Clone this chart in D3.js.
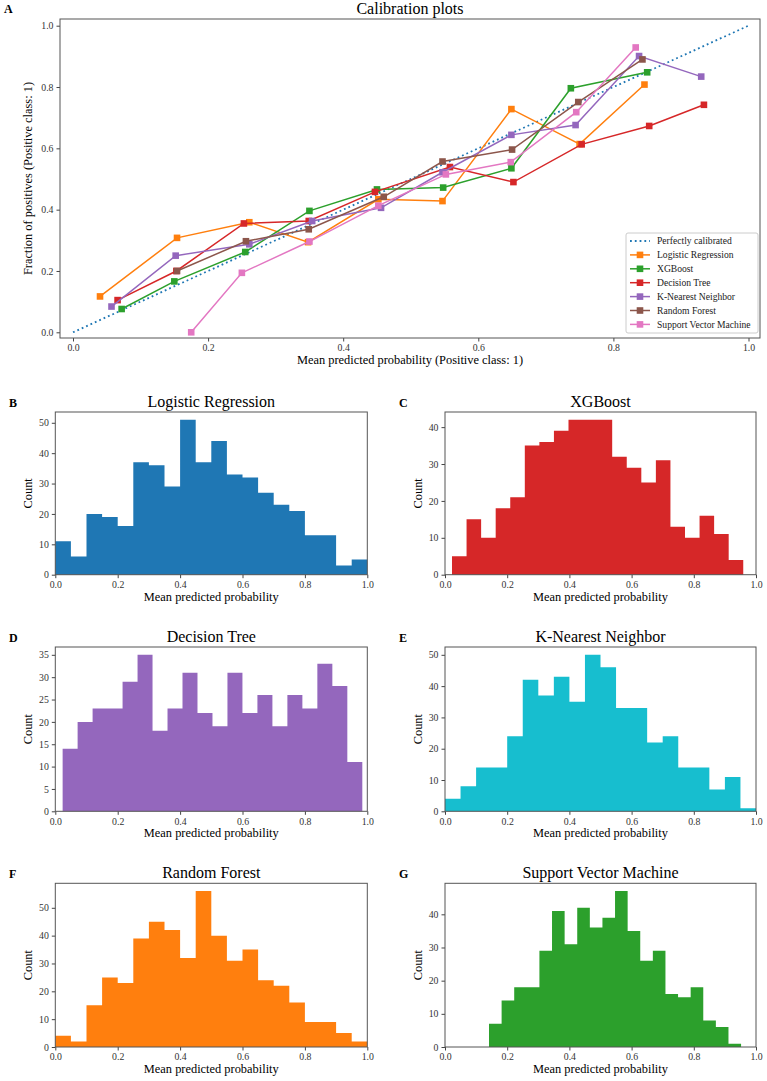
<!DOCTYPE html>
<html>
<head>
<meta charset="utf-8">
<script src="https://cdn.jsdelivr.net/npm/d3@7"></script>
<style>
  body { margin: 0; background: #fff; }
  svg { font-family: "Liberation Serif", "Times New Roman", serif; }
  .tick text { fill: #333; }
  .tick line { stroke: #444; }
</style>
</head>
<body>
<svg id="chart" width="767" height="1081"></svg>
<script>
// calibration curves: [mean predicted, fraction of positives]
const lrCal = [[0.040, 0.117], [0.154, 0.308], [0.261, 0.359], [0.348, 0.294], [0.452, 0.434],
  [0.547, 0.428], [0.649, 0.728], [0.750, 0.614], [0.846, 0.808]];
const xgbCal = [[0.072, 0.076], [0.150, 0.166], [0.255, 0.262], [0.350, 0.396], [0.450, 0.466],
  [0.548, 0.472], [0.649, 0.535], [0.737, 0.796], [0.850, 0.848]];
const dtCal = [[0.066, 0.105], [0.153, 0.200], [0.253, 0.355], [0.349, 0.363], [0.447, 0.458],
  [0.558, 0.539], [0.652, 0.490], [0.753, 0.613], [0.853, 0.673], [0.934, 0.742]];
const knnCal = [[0.057, 0.084], [0.152, 0.250], [0.261, 0.287], [0.354, 0.363], [0.456, 0.406],
  [0.547, 0.522], [0.649, 0.644], [0.744, 0.676], [0.838, 0.901], [0.930, 0.834]];
const rfCal = [[0.154, 0.200], [0.256, 0.297], [0.349, 0.336], [0.460, 0.442], [0.547, 0.557],
  [0.650, 0.596], [0.748, 0.751], [0.843, 0.890]];
const svmCal = [[0.175, 0.000], [0.250, 0.194], [0.350, 0.296], [0.452, 0.413], [0.552, 0.515],
  [0.648, 0.555], [0.745, 0.718], [0.833, 0.929]];

const modelNames = ['Logistic Regression', 'XGBoost', 'Decision Tree', 'K-Nearest Neighbor',
  'Random Forest', 'Support Vector Machine'];
const calColors = ['#ff7f0e', '#2ca02c', '#d62728', '#9467bd', '#8c564b', '#e377c2'];
const calSeries = [lrCal, xgbCal, dtCal, knnCal, rfCal, svmCal];
const calTicks = [0, 0.2, 0.4, 0.6, 0.8, 1.0];

// histograms of predicted probability (20 bins each)
const lrCounts = [11, 6, 20, 19, 16, 37, 36, 29, 51, 37, 44, 33, 32, 27, 23, 21, 13, 13, 3, 5];
const xgbCounts = [5, 15, 10, 18, 21, 35, 36, 39, 42, 42, 42, 32, 29, 25, 31, 13, 10, 16, 11, 4];
const dtCounts = [14, 20, 23, 23, 29, 35, 18, 23, 31, 22, 19, 31, 22, 26, 19, 26, 23, 33, 28, 11];
const knnCounts = [4, 8, 14, 14, 24, 42, 37, 43, 35, 50, 46, 33, 33, 22, 24, 14, 14, 7, 11, 1];
const rfCounts = [4, 2, 15, 25, 23, 39, 45, 42, 32, 56, 40, 31, 35, 24, 22, 16, 9, 9, 5, 2];
const svmCounts = [7, 14, 18, 18, 29, 41, 31, 42, 36, 39, 47, 35, 26, 29, 16, 15, 18, 8, 6, 1];

// [first bin edge, last bin edge]
const lrRange = [0, 1];
const xgbRange = [0.0225, 0.959];
const dtRange = [0.0235, 0.984];
const knnRange = [0, 1];
const rfRange = [0, 1];
const svmRange = [0.1415, 0.952];

const histLetters = ['B', 'C', 'D', 'E', 'F', 'G'];
const histColors = ['#1f77b4', '#d62728', '#9467bd', '#17becf', '#ff7f0e', '#2ca02c'];
const histCounts = [lrCounts, xgbCounts, dtCounts, knnCounts, rfCounts, svmCounts];
const histRanges = [lrRange, xgbRange, dtRange, knnRange, rfRange, svmRange];
const histYTicks = [
  [0, 10, 20, 30, 40, 50], [0, 10, 20, 30, 40], [0, 5, 10, 15, 20, 25, 30, 35],
  [0, 10, 20, 30, 40, 50], [0, 10, 20, 30, 40, 50], [0, 10, 20, 30, 40]];
const histXTicks = [0, 0.2, 0.4, 0.6, 0.8, 1.0];

const svg = d3.select('#chart');
const fmt = d3.format('.1f');

// d3 axes set a sans-serif font on their group; drop it so the serif applies
function styleAxis(g) {
  g.attr('font-family', null).attr('font-size', null);
  g.select('.domain').remove();
  g.selectAll('.tick text').style('font-size', '9.8px');
}

function frame(g, x0, y0, x1, y1) {
  g.append('rect')
    .attr('x', x0).attr('y', y0)
    .attr('width', x1 - x0).attr('height', y1 - y0)
    .attr('fill', 'none')
    .attr('stroke', '#555')
    .attr('stroke-width', 1);
}

// ---------- panel A: calibration plot ----------
(function () {
  const L = 60, R = 760, T = 19, B = 338;
  const x = d3.scaleLinear().domain([0, 1]).range([73, 748.5]);
  const y = d3.scaleLinear().domain([0, 1]).range([332.3, 25.7]);
  const g = svg.append('g');

  g.append('g')
    .attr('transform', `translate(0,${B})`)
    .call(d3.axisBottom(x).tickValues(calTicks).tickFormat(fmt).tickSize(3.5).tickPadding(3))
    .call(styleAxis);
  g.append('g')
    .attr('transform', `translate(${L},0)`)
    .call(d3.axisLeft(y).tickValues(calTicks).tickFormat(fmt).tickSize(3.5).tickPadding(3))
    .call(styleAxis);

  const line = d3.line().x(d => x(d[0])).y(d => y(d[1]));

  g.append('path')
    .datum([[0, 0], [1, 1]])
    .attr('d', line)
    .attr('fill', 'none')
    .attr('stroke', '#1f77b4')
    .attr('stroke-width', 1.8)
    .attr('stroke-dasharray', '1.8,3');

  calSeries.forEach((s, i) => {
    g.append('path')
      .datum(s)
      .attr('d', line)
      .attr('fill', 'none')
      .attr('stroke', calColors[i])
      .attr('stroke-width', 1.5);
    g.selectAll(null)
      .data(s)
      .enter().append('rect')
        .attr('x', d => x(d[0]) - 3.3)
        .attr('y', d => y(d[1]) - 3.3)
        .attr('width', 6.6)
        .attr('height', 6.6)
        .attr('fill', calColors[i]);
  });

  frame(g, L, T, R, B);

  g.append('text')
    .attr('x', (L + R) / 2).attr('y', 14)
    .attr('text-anchor', 'middle')
    .style('font-size', '16px')
    .text('Calibration plots');
  g.append('text')
    .attr('x', 4).attr('y', 13)
    .style('font-size', '12px').style('font-weight', 'bold')
    .text('A');
  g.append('text')
    .attr('x', (L + R) / 2).attr('y', 364)
    .attr('text-anchor', 'middle')
    .style('font-size', '12.4px')
    .text('Mean predicted probability (Positive class: 1)');
  g.append('text')
    .attr('transform', `translate(32,${(T + B) / 2}) rotate(-90)`)
    .attr('text-anchor', 'middle')
    .style('font-size', '12.4px')
    .text('Fraction of positives (Positive class: 1)');

  // legend
  const lg = g.append('g');
  lg.append('rect')
    .attr('x', 626).attr('y', 233)
    .attr('width', 132).attr('height', 100)
    .attr('rx', 2)
    .attr('fill', '#fff').attr('fill-opacity', 0.8)
    .attr('stroke', '#ccc');
  const entries = ['Perfectly calibrated'].concat(modelNames);
  entries.forEach((name, i) => {
    const yy = 241 + i * 13.9;
    if (i === 0) {
      lg.append('line')
        .attr('x1', 630).attr('x2', 650).attr('y1', yy).attr('y2', yy)
        .attr('stroke', '#1f77b4').attr('stroke-width', 1.8)
        .attr('stroke-dasharray', '1.8,3');
    } else {
      lg.append('line')
        .attr('x1', 630).attr('x2', 650).attr('y1', yy).attr('y2', yy)
        .attr('stroke', calColors[i - 1]).attr('stroke-width', 1.5);
      lg.append('rect')
        .attr('x', 640 - 3.3).attr('y', yy - 3.3)
        .attr('width', 6.6).attr('height', 6.6)
        .attr('fill', calColors[i - 1]);
    }
    lg.append('text')
      .attr('x', 657).attr('y', yy + 3.3)
      .style('font-size', '9.6px')
      .attr('fill', '#222')
      .text(name);
  });
})();

// ---------- panels B-G: histograms ----------
const colLeft = [55.3, 445];
const colRight = [367.3, 756];
const rowTop = [412, 647, 883.3];
const rowBottom = [574.7, 811.3, 1047];

histCounts.forEach((counts, k) => {
  const col = k % 2, row = Math.floor(k / 2);
  const L = colLeft[col], R = colRight[col], T = rowTop[row], B = rowBottom[row];
  const ymax = d3.max(counts) * 1.05;
  const x = d3.scaleLinear().domain([0, 1]).range([L, R]);
  const y = d3.scaleLinear().domain([0, ymax]).range([B, T]);
  const [lo, hi] = histRanges[k];
  const w = (hi - lo) / counts.length;
  const bins = counts.map((c, i) => ({ x0: lo + i * w, x1: lo + (i + 1) * w, c }));

  const g = svg.append('g');
  // one filled step outline so there are no seams between bars
  const step = [];
  bins.forEach(d => { step.push([d.x0, d.c], [d.x1, d.c]); });
  const area = d3.area()
    .x(d => x(d[0]))
    .y0(y(0))
    .y1(d => y(d[1]));
  g.append('path')
    .datum([[lo, 0]].concat(step, [[hi, 0]]))
    .attr('d', area)
    .attr('fill', histColors[k]);

  g.append('g')
    .attr('transform', `translate(0,${B})`)
    .call(d3.axisBottom(x).tickValues(histXTicks).tickFormat(fmt).tickSize(3.5).tickPadding(3))
    .call(styleAxis);
  g.append('g')
    .attr('transform', `translate(${L},0)`)
    .call(d3.axisLeft(y).tickValues(histYTicks[k]).tickSize(3.5).tickPadding(3))
    .call(styleAxis);

  frame(g, L, T, R, B);

  g.append('text')
    .attr('x', (L + R) / 2).attr('y', T - 5)
    .attr('text-anchor', 'middle')
    .style('font-size', '16px')
    .text(modelNames[k]);
  g.append('text')
    .attr('x', col === 0 ? 9 : 399).attr('y', T - 5)
    .style('font-size', '12px').style('font-weight', 'bold')
    .text(histLetters[k]);
  g.append('text')
    .attr('x', (L + R) / 2).attr('y', B + 26)
    .attr('text-anchor', 'middle')
    .style('font-size', '12.4px')
    .text('Mean predicted probability');
  g.append('text')
    .attr('transform', `translate(${L - 23},${(T + B) / 2}) rotate(-90)`)
    .attr('text-anchor', 'middle')
    .style('font-size', '12.4px')
    .text('Count');
});
</script>
</body>
</html>
